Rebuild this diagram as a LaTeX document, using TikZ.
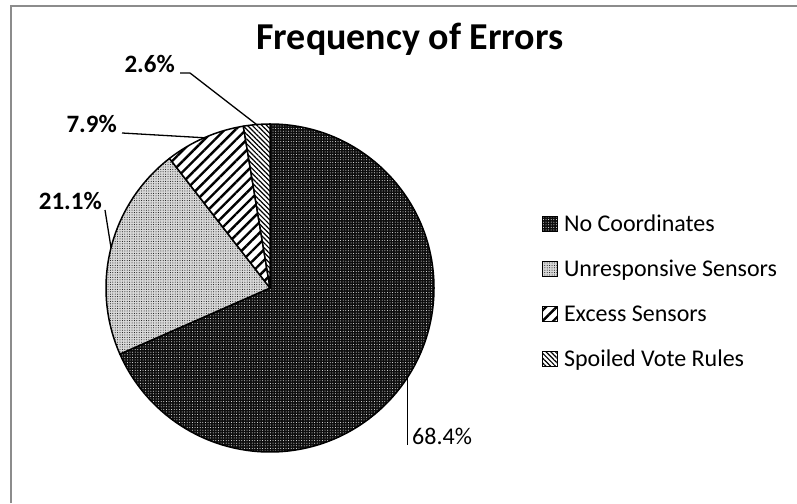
\documentclass[tikz,border=0pt]{standalone}
\usepackage{fontspec}
\setmainfont{Carlito}
\usetikzlibrary{patterns.meta,positioning,calc}

\tikzset{
  nocoord/.style={preaction={fill=black!95},pattern={Dots[radius=0.5pt,distance=2.6pt]},pattern color=white},
  unresp/.style={preaction={fill=black!15},pattern={Dots[radius=0.5pt,distance=2.4pt]},pattern color=black},
  excess/.style={preaction={fill=white},pattern={Lines[angle=45,distance=7.5pt,line width=2.4pt]},pattern color=black},
  spoiled/.style={preaction={fill=white},pattern={Lines[angle=-45,distance=3.4pt,line width=1.2pt]},pattern color=black},
  slice/.style={draw=black,line width=1.5pt,line join=round},
  leader/.style={draw=black,line width=1.3pt},
  pct/.style={font=\fontsize{25}{27}\selectfont\bfseries,inner sep=0pt},
  legbox/.style={draw=black,line width=0.8pt,minimum size=15pt,inner sep=0pt,anchor=south west},
  legtxt/.style={font=\fontsize{24}{26}\selectfont,inner sep=0pt}
}

\begin{document}
\begin{tikzpicture}[x=1pt,y=1pt]
  \useasboundingbox (0,0) rectangle (797,503);
  \fill[white] (0,0) rectangle (797,503);
  \draw[black!45,line width=2pt] (11,0) -- (11,497) -- (797,497);

  \node[font=\fontsize{38}{40}\selectfont\bfseries,anchor=base] (title) at (410,453) {Frequency of Errors};

  \coordinate (c) at (270,215);
  \def\r{164}
  % slices, clockwise from the top
  \foreach \a/\b/\s in {90/-156.24/nocoord, -156.24/-232.2/unresp, -232.2/-260.64/excess, -260.64/-270/spoiled}
    \path[slice,\s] (c) -- ++(\a:\r) arc[start angle=\a,end angle=\b,radius=\r] -- cycle;

  % where the leaders meet the pie
  \coordinate (e1) at ($(c)+(-33.12:\r)$);
  \coordinate (e2) at ($(c)+(165.78:\r)$);
  \coordinate (e3) at ($(c)+(113.64:\r)$);
  \coordinate (e4) at ($(c)+(94.68:\r)$);

  \node[legtxt,anchor=base west] (p1) at (412,58) {68.4\%};
  \node[pct,anchor=base east] (p2) at (102,293) {21.1\%};
  \node[pct,anchor=base east] (p3) at (117,370) {7.9\%};
  \node[pct,anchor=base east] (p4) at (175,430) {2.6\%};

  \draw[leader] (e1) -- (e1 |- p1.base west);
  \draw[leader] ([xshift=3pt]p2.base east) -- (e2);
  \draw[leader] ([xshift=5pt]p3.base east) -- (e3);
  \draw[leader] ([xshift=5pt]p4.base east) -- ++(10,0) -- (e4);

  % legend
  \foreach \t/\s [count=\i] in {No Coordinates/nocoord, Unresponsive Sensors/unresp, Excess Sensors/excess, Spoiled Vote Rules/spoiled} {
    \node[legbox,\s] (k\i) at (542,{316-45*\i}) {};
    \node[legtxt,right=6pt of k\i.south east,anchor=base west] (l\i) {\t};
  }
\end{tikzpicture}
\end{document}
